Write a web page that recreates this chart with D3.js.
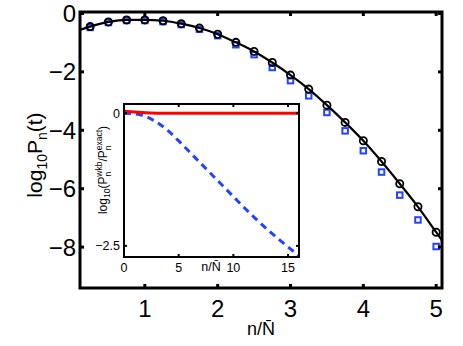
<!DOCTYPE html>
<meta charset="utf-8">
<style>
body { margin: 0; background: #fff; }
text { font-family: "Liberation Sans", Arial, sans-serif; }
</style>
<svg width="463" height="346"></svg>
<script src="https://d3js.org/d3.v7.min.js"></script>
<script>

// main panel: n/Nbar vs log10 Pn(t)
var nGrid = [0.25, 0.5, 0.75, 1.0, 1.25, 1.5, 1.75, 2.0, 2.25, 2.5,
             2.75, 3.0, 3.25, 3.5, 3.75, 4.0, 4.25, 4.5, 4.75, 5.0];
var exactVals = [-0.45, -0.29, -0.22, -0.22, -0.25, -0.35, -0.50, -0.71, -0.99, -1.30,
                 -1.68, -2.11, -2.59, -3.14, -3.73, -4.36, -5.07, -5.83, -6.62, -7.49];
var wkbVals = [-0.48, -0.31, -0.24, -0.24, -0.28, -0.38, -0.54, -0.76, -1.07, -1.41,
               -1.85, -2.30, -2.82, -3.39, -4.02, -4.70, -5.43, -6.22, -7.07, -7.98];
var curveX = [0.11, 0.25, 0.5, 0.75, 1.0, 1.25, 1.5, 1.75, 2.0, 2.25, 2.5,
              2.75, 3.0, 3.25, 3.5, 3.75, 4.0, 4.25, 4.5, 4.75, 5.0, 5.08];
var curveY = [-0.56, -0.45, -0.29, -0.22, -0.22, -0.25, -0.35, -0.50, -0.71, -0.99, -1.30,
              -1.68, -2.11, -2.59, -3.14, -3.73, -4.36, -5.07, -5.83, -6.62, -7.49, -7.77];
var xTicks = [1, 2, 3, 4, 5];
var yTicks = [0, -2, -4, -6, -8];

// inset: log10(Pwkb/Pexact)
var insetN = [0, 1, 2, 3, 4, 5, 6, 7, 8, 9, 10, 11, 12, 13, 14, 15, 16];
var insetBlue = [0, -0.01, -0.06, -0.17, -0.32, -0.52, -0.73, -0.94, -1.15, -1.36,
                 -1.57, -1.78, -1.98, -2.17, -2.35, -2.52, -2.69];
var insetRed = [0.04, 0.025, 0.01, 0.003, 0, 0, 0, 0, 0, 0, 0, 0, 0, 0, 0, 0, 0];
var insetXTicks = [0, 5, 10, 15];
var insetYTicks = [0, -2.5];

var svg = d3.select("svg");
var blue = "#2443ff";

var x = d3.scaleLinear().domain([0.11, 5.08]).range([80, 442]);
var y = d3.scaleLinear().domain([0.05, -9.4]).range([12, 288]);

var g = svg.append("g");

// blue squares (wkb)
var sq = 5.5;
g.selectAll("rect.wkb")
  .data(nGrid)
  .enter().append("rect")
    .attr("class", "wkb")
    .attr("x", function(d) { return x(d) - sq / 2; })
    .attr("y", function(d, i) { return y(wkbVals[i]) - sq / 2; })
    .attr("width", sq)
    .attr("height", sq)
    .attr("fill", "none")
    .attr("stroke", blue)
    .attr("stroke-width", 2);

// black curve
var line = d3.line()
    .x(function(d, i) { return x(curveX[i]); })
    .y(function(d) { return y(d); })
    .curve(d3.curveMonotoneX);

g.append("path")
    .attr("d", line(curveY))
    .attr("fill", "none")
    .attr("stroke", "#000")
    .attr("stroke-width", 2.2);

// black circles (exact)
g.selectAll("circle")
  .data(nGrid)
  .enter().append("circle")
    .attr("cx", function(d) { return x(d); })
    .attr("cy", function(d, i) { return y(exactVals[i]); })
    .attr("r", 3.6)
    .attr("fill", "none")
    .attr("stroke", "#000")
    .attr("stroke-width", 1.8);

// axes box with inward ticks
function boxAxes(sel, xs, ys, xt, yt, tickLen, lw) {
  var x0 = xs.range()[0], x1 = xs.range()[1];
  var y0 = ys.range()[0], y1 = ys.range()[1];
  xt.forEach(function(t) {
    sel.append("line").attr("x1", xs(t)).attr("x2", xs(t))
      .attr("y1", y1).attr("y2", y1 - tickLen).attr("stroke", "#000").attr("stroke-width", lw);
    sel.append("line").attr("x1", xs(t)).attr("x2", xs(t))
      .attr("y1", y0).attr("y2", y0 + tickLen).attr("stroke", "#000").attr("stroke-width", lw);
  });
  yt.forEach(function(t) {
    sel.append("line").attr("x1", x0).attr("x2", x0 + tickLen)
      .attr("y1", ys(t)).attr("y2", ys(t)).attr("stroke", "#000").attr("stroke-width", lw);
    sel.append("line").attr("x1", x1).attr("x2", x1 - tickLen)
      .attr("y1", ys(t)).attr("y2", ys(t)).attr("stroke", "#000").attr("stroke-width", lw);
  });
  sel.append("rect")
    .attr("x", x0).attr("y", y0)
    .attr("width", x1 - x0).attr("height", y1 - y0)
    .attr("fill", "none").attr("stroke", "#000").attr("stroke-width", lw);
}

boxAxes(g, x, y, xTicks, yTicks, 4, 3);

g.selectAll("text.xt")
  .data(xTicks)
  .enter().append("text")
    .attr("x", function(d) { return x(d); })
    .attr("y", 317)
    .attr("text-anchor", "middle")
    .attr("font-size", 24)
    .text(function(d) { return d; });

g.selectAll("text.yt")
  .data(yTicks)
  .enter().append("text")
    .attr("x", 76)
    .attr("y", function(d) { return y(d) + 8.5; })
    .attr("text-anchor", "end")
    .attr("font-size", 24)
    .text(function(d) { return d < 0 ? "\u2212" + (-d) : d; });

g.append("text")
    .attr("x", 261)
    .attr("y", 335)
    .attr("text-anchor", "middle")
    .attr("font-size", 18)
    .text("n/N\u0304");

var yl = g.append("text")
    .attr("transform", "translate(42,155) rotate(-90)")
    .attr("text-anchor", "middle")
    .attr("font-size", 21);
yl.append("tspan").text("log");
yl.append("tspan").attr("font-size", 14).attr("dy", 5).text("10");
yl.append("tspan").attr("dy", -5).text("P");
yl.append("tspan").attr("font-size", 14).attr("dy", 5).text("n");
yl.append("tspan").attr("dy", -5).text("(t)");

// inset
var ix = d3.scaleLinear().domain([0, 16]).range([124, 299]);
var iy = d3.scaleLinear().domain([0.176, -2.71]).range([104, 257]);

var ins = svg.append("g");
ins.append("rect")
    .attr("x", 124).attr("y", 104)
    .attr("width", 175).attr("height", 153)
    .attr("fill", "#fff");

var iline = d3.line()
    .x(function(d, i) { return ix(insetN[i]); })
    .y(function(d) { return iy(d); })
    .curve(d3.curveMonotoneX);

ins.append("path")
    .attr("d", iline(insetBlue))
    .attr("fill", "none")
    .attr("stroke", blue)
    .attr("stroke-width", 3)
    .attr("stroke-dasharray", "7,5");

ins.append("path")
    .attr("d", iline(insetRed))
    .attr("fill", "none")
    .attr("stroke", "#ff0000")
    .attr("stroke-width", 3);

boxAxes(ins, ix, iy, insetXTicks, insetYTicks, 3, 2);

ins.selectAll("text.ixt")
  .data(insetXTicks)
  .enter().append("text")
    .attr("x", function(d) { return ix(d); })
    .attr("y", 272)
    .attr("text-anchor", "middle")
    .attr("font-size", 12.5)
    .text(function(d) { return d; });

ins.selectAll("text.iyt")
  .data(insetYTicks)
  .enter().append("text")
    .attr("x", 120)
    .attr("y", function(d) { return iy(d) + 4.5; })
    .attr("text-anchor", "end")
    .attr("font-size", 12.5)
    .text(function(d) { return d < 0 ? "\u2212" + (-d) : d; });

ins.append("text")
    .attr("x", 211)
    .attr("y", 271)
    .attr("text-anchor", "middle")
    .attr("font-size", 12.5)
    .text("n/N\u0304");

var il = ins.append("text")
    .attr("transform", "translate(107,170) rotate(-90)")
    .attr("text-anchor", "middle")
    .attr("font-size", 12);
il.append("tspan").text("log");
il.append("tspan").attr("font-size", 8.5).attr("dy", 3).text("10");
il.append("tspan").attr("dy", -3).text("(P");
il.append("tspan").attr("font-size", 8.5).attr("dy", 4).text("n");
il.append("tspan").attr("font-size", 8.5).attr("dx", -4.8).attr("dy", -9).text("wkb");
il.append("tspan").attr("dy", 5).text("/P");
il.append("tspan").attr("font-size", 8.5).attr("dy", 4).text("n");
il.append("tspan").attr("font-size", 8.5).attr("dx", -4.8).attr("dy", -9).text("exact");
il.append("tspan").attr("dy", 5).text(")");

</script>
